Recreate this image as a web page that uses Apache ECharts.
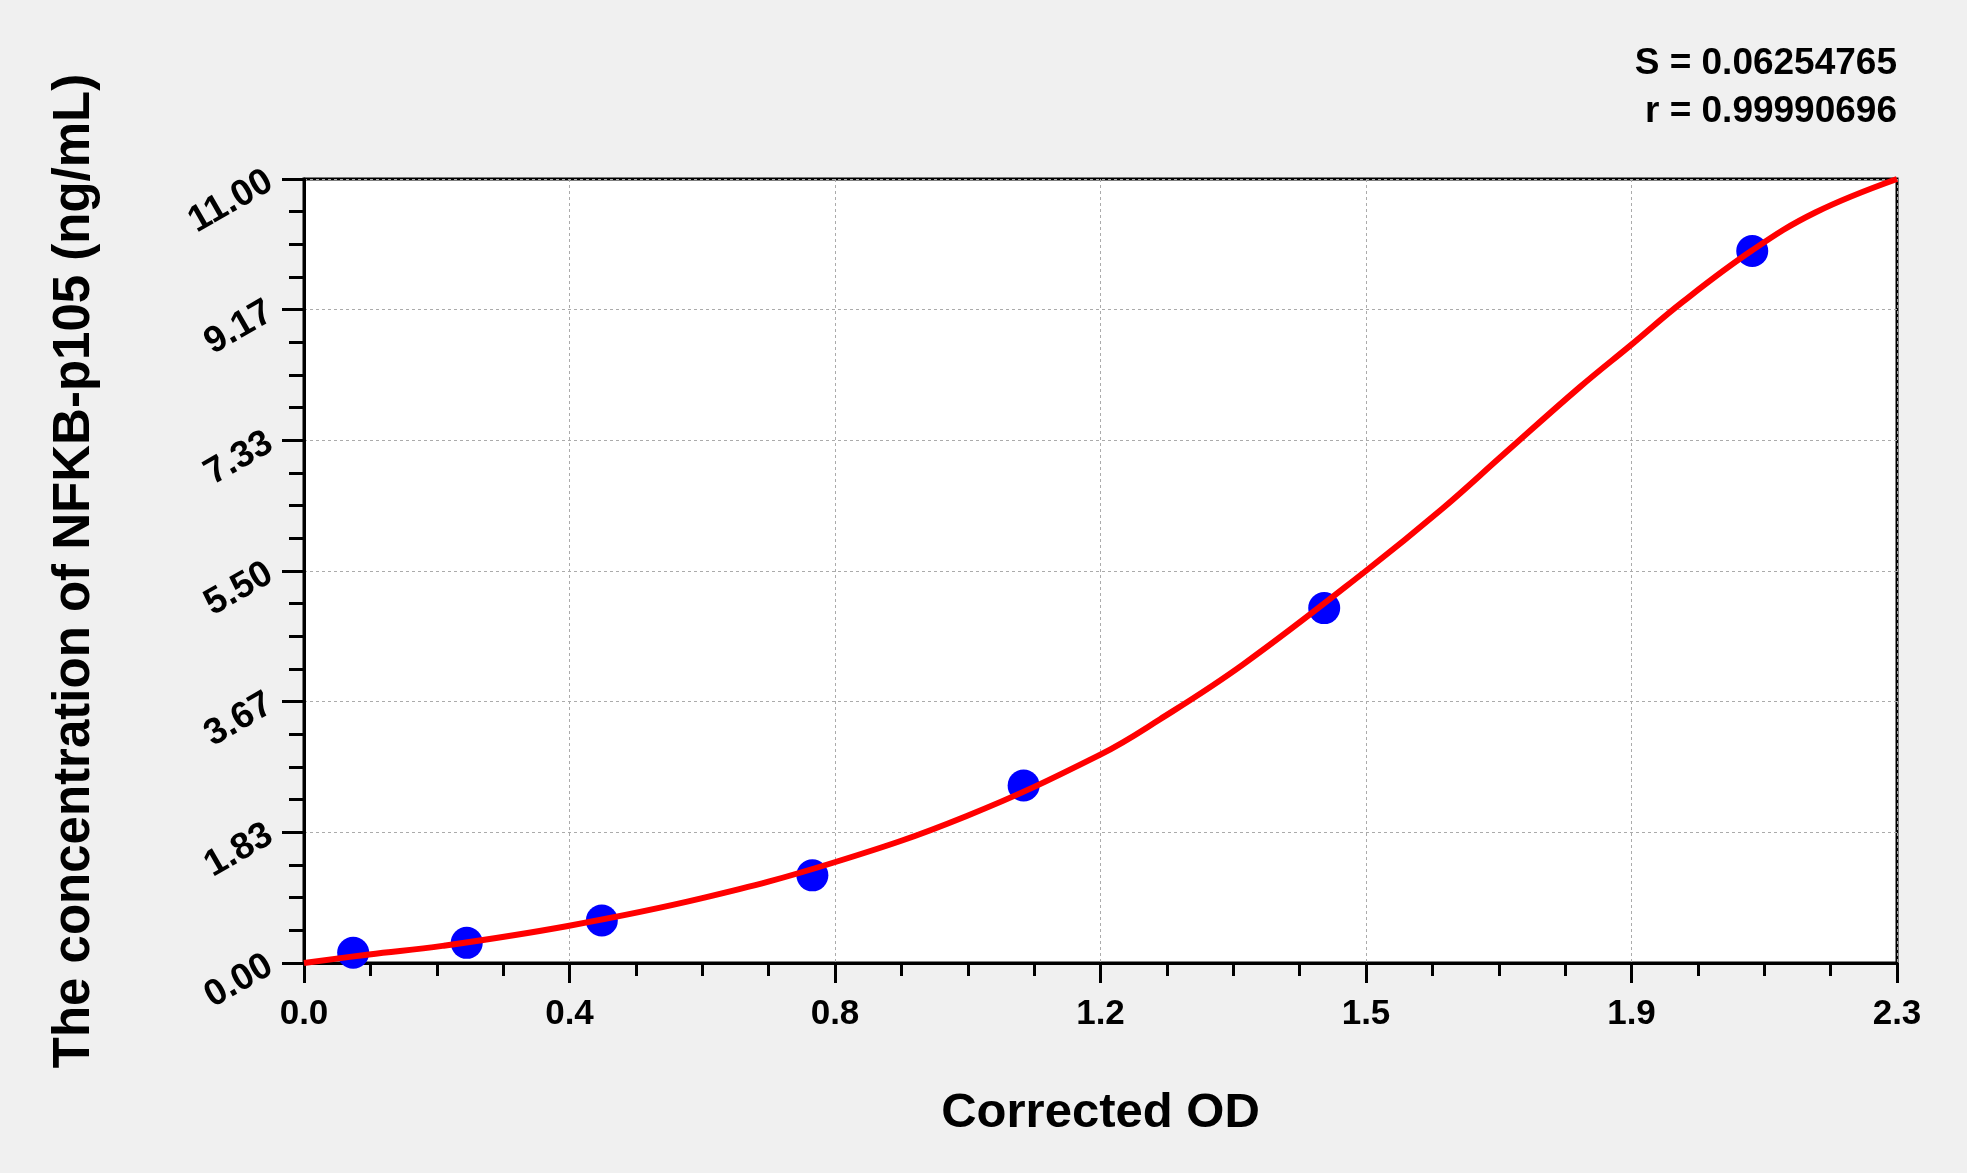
<!DOCTYPE html>
<html>
<head>
<meta charset="utf-8">
<title>NFKB-p105 standard curve</title>
<script src="https://cdn.jsdelivr.net/npm/echarts@6/dist/echarts.min.js"></script>
<style>
  html, body { margin: 0; padding: 0; background: #f0f0f0; }
  #chart { width: 1967px; height: 1173px; }
</style>
</head>
<body>
<div id="chart"></div>
<script>
// standards (measured points)
var odValues = [0.071, 0.235, 0.430, 0.734, 1.039, 1.473, 2.091];
var concValues = [0.143, 0.283, 0.596, 1.23, 2.49, 4.98, 9.99];

// fitted curve
var curveOd = [0, 0.094, 0.2, 0.381, 0.575, 0.765, 0.956, 1.149, 1.236, 1.356, 1.533, 1.643, 1.73, 1.842, 1.917, 1.991, 2.091, 2.182, 2.3];
var curveConc = [0, 0.12, 0.24, 0.52, 0.91, 1.41, 2.06, 2.92, 3.42, 4.19, 5.50, 6.37, 7.12, 8.08, 8.68, 9.28, 10.0, 10.53, 11.0];

var xTickLabels = ['0.0', '0.4', '0.8', '1.2', '1.5', '1.9', '2.3'];
var yTickLabels = ['0.00', '1.83', '3.67', '5.50', '7.33', '9.17', '11.00'];

var statLines = ['S = 0.06254765', 'r = 0.99990696'];

var xMax = 2.3, yMax = 11;
var xStep = xMax / 6, yStep = yMax / 6;
var font = 'Arial, "Liberation Sans", sans-serif';

let chart = echarts.init(document.getElementById('chart'), null, { renderer: 'canvas' });

var points = odValues.map(function (x, i) { return [x, concValues[i]]; });
var curve = curveOd.map(function (x, i) { return [x, curveConc[i]]; });

var tickStyle = { color: '#000', width: 3 };
var gridLine = { show: true, lineStyle: { color: '#ababab', width: 1, type: [3, 3] } };

chart.setOption({
    backgroundColor: '#f0f0f0',
    animation: false,
    title: {
        text: statLines.join('\n'),
        left: 1897,
        top: 40,
        padding: 0,
        textAlign: 'right',
        textStyle: {
            fontFamily: font,
            fontSize: 37,
            fontWeight: 'bold',
            color: '#000',
            lineHeight: 48
        }
    },
    grid: {
        show: true,
        left: 304,
        right: 70,
        top: 179,
        bottom: 210,
        backgroundColor: '#fff',
        borderColor: '#000',
        borderWidth: 3
    },
    xAxis: {
        type: 'value',
        min: 0,
        max: xMax,
        interval: xStep,
        name: 'Corrected OD',
        nameLocation: 'middle',
        nameGap: 126,
        nameTextStyle: { fontFamily: font, fontSize: 49, fontWeight: 'bold', color: '#000' },
        axisLine: { lineStyle: tickStyle },
        axisTick: { length: 20, lineStyle: tickStyle },
        minorTick: { show: true, splitNumber: 4, length: 13, lineStyle: tickStyle },
        axisLabel: {
            margin: 34,
            fontFamily: font,
            fontSize: 35,
            fontWeight: 'bold',
            color: '#000',
            formatter: function (v) { return xTickLabels[Math.round(v / xStep)]; }
        },
        splitLine: gridLine
    },
    yAxis: {
        type: 'value',
        min: 0,
        max: yMax,
        interval: yStep,
        name: 'The concentration of NFKB-p105 (ng/mL)',
        nameLocation: 'middle',
        nameRotate: 90,
        nameGap: 204,
        nameTextStyle: { fontFamily: font, fontSize: 51, fontWeight: 'bold', color: '#000' },
        axisLine: { lineStyle: tickStyle },
        axisTick: { length: 22, lineStyle: tickStyle },
        minorTick: { show: true, splitNumber: 4, length: 15, lineStyle: tickStyle },
        axisLabel: {
            rotate: 30,
            margin: 34,
            fontFamily: font,
            fontSize: 37,
            fontWeight: 'bold',
            color: '#000',
            formatter: function (v) { return yTickLabels[Math.round(v / yStep)]; }
        },
        splitLine: gridLine
    },
    series: [{
        name: 'Standards',
        type: 'scatter',
        symbol: 'circle',
        symbolSize: 32,
        itemStyle: { color: '#0000ff', opacity: 1 },
        z: 2,
        data: points
    }, {
        name: 'Fit',
        type: 'line',
        smooth: 0.4,
        showSymbol: false,
        lineStyle: { color: '#ff0000', width: 6 },
        z: 3,
        data: curve
    }]
});
</script>
</body>
</html>
